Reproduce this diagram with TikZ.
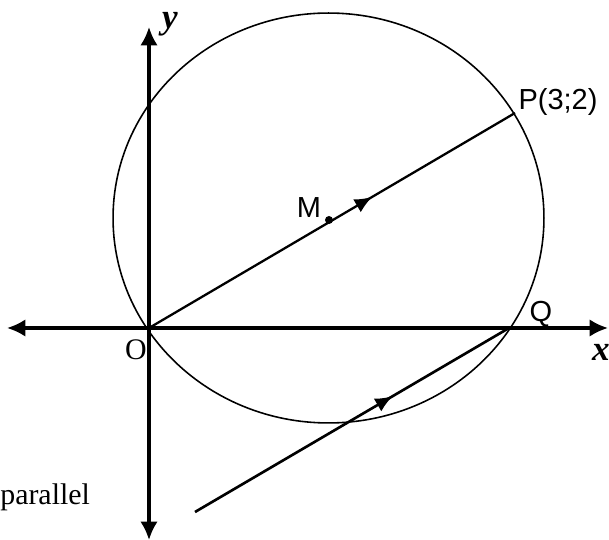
\documentclass[tikz,border=0pt]{standalone}
\usepackage{fontspec}
\setmainfont{Liberation Serif}
\newfontfamily\labelfont{Liberation Sans}
\usetikzlibrary{arrows.meta,decorations.markings,calc}
\tikzset{
    axis/.style={line width=1.8pt, {Latex[length=10.5pt,width=10pt]}-{Latex[length=10.5pt,width=10pt]}},
    vecline/.style={line width=1.3pt, postaction={decorate},
        decoration={markings, mark=at position #1 with {\arrow{Latex[length=10pt,width=8.5pt]}}}},
    ptlabel/.style={font=\labelfont\fontsize{16.5}{18}\selectfont, inner sep=0pt},
    axlabel/.style={font=\fontsize{20}{22}\selectfont\bfseries\itshape, inner sep=0pt},
}

\begin{document}
\begin{tikzpicture}[x=0.02cm, y=-0.02cm]
\useasboundingbox (0,0) rectangle (609,540);

% Points
\coordinate (O) at (149,328);
\coordinate (P) at (515,113);
\coordinate (Q) at (509,328);
\coordinate (M) at (329,220);
\coordinate (S) at (195,512);
\coordinate (xl) at (7,328);
\coordinate (xr) at (608,328);
\coordinate (yb) at (149,540);
\coordinate (yt) at (149,27);

% Circle
\draw[line width=0.9pt] (328.5,218) ellipse [x radius=4.31cm, y radius=4.1cm];

% Axes
\draw[axis] (xl) -- (xr);
\draw[axis] (yb) -- (yt);

% Vectors
\draw[vecline=0.61] (O) -- (P);
\draw[vecline=0.63, line width=1.5pt] (S) -- (Q);
\fill (M) circle (0.08cm);

% Labels
\node[ptlabel] (lM) at (309,208) {M};
\node[ptlabel] (lP) at (558,102) {P(3;2)};
\node[ptlabel] (lQ) at (541,314) {Q};
\node[font=\fontsize{17}{18}\selectfont, inner sep=0pt] (lO) at (136,350) {O};
\node[axlabel] (lx) at (601,352) {x};
\node[axlabel] (ly) at (170,24) {y};
\node[font=\fontsize{17}{20}\selectfont, inner sep=0pt, anchor=west] (par) at (0,497) {parallel};

\end{tikzpicture}
\end{document}
